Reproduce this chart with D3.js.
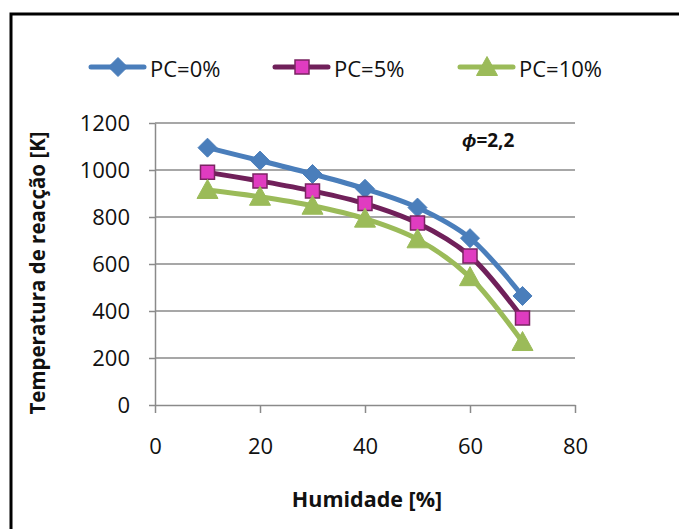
<!DOCTYPE html>
<html>
<head>
<meta charset="utf-8">
<script src="https://cdn.jsdelivr.net/npm/d3@7/dist/d3.min.js"></script>
<style>
  html, body { margin: 0; padding: 0; background: #fff; }
  svg { display: block; font-family: "Open Sans", sans-serif; }
</style>
</head>
<body>
<svg id="chart" width="679" height="529"></svg>
<script>
// Humidity levels (%) and reaction temperature (K) for each PC content
const humidity = [10, 20, 30, 40, 50, 60, 70];
const pc0  = [1095, 1040, 983, 920, 840, 710, 464];
const pc5  = [990, 953, 911, 857, 774, 634, 370];
const pc10 = [915, 886, 848, 793, 705, 544, 268];

const seriesNames = ["PC=0%", "PC=5%", "PC=10%"];
const xTicks = [0, 20, 40, 60, 80];
const yTicks = [0, 200, 400, 600, 800, 1000, 1200];

const series = [
  { name: seriesNames[0], values: pc0,  line: "#4A7EBB", fill: "#4A7EBB", stroke: "#4A7EBB", shape: "diamond" },
  { name: seriesNames[1], values: pc5,  line: "#70205A", fill: "#E03CC0", stroke: "#7A2462", shape: "square" },
  { name: seriesNames[2], values: pc10, line: "#9BBB59", fill: "#9BBB59", stroke: "#9BBB59", shape: "triangle" }
];

const svg = d3.select("#chart");

// outer frame
svg.append("rect")
  .attr("x", 11).attr("y", 14)
  .attr("width", 700).attr("height", 560)
  .attr("fill", "none").attr("stroke", "#000").attr("stroke-width", 3);

const x = d3.scaleLinear().domain([0, 80]).range([155, 575]);
const y = d3.scaleLinear().domain([0, 1200]).range([405, 123]);
const fmt = d3.format("d");

// horizontal gridlines
svg.append("g").selectAll("line")
  .data(yTicks.filter(d => d > 0))
  .join("line")
  .attr("x1", x(0)).attr("x2", x(80))
  .attr("y1", d => y(d)).attr("y2", d => y(d))
  .attr("stroke", "#8a8a8a").attr("stroke-width", 1.5);

// y axis
const yAxis = svg.append("g")
  .attr("transform", `translate(${x(0)},0)`)
  .call(d3.axisLeft(y).tickValues(yTicks).tickFormat(fmt)
    .tickSize(6).tickPadding(19).tickSizeOuter(0));
yAxis.select(".domain").attr("stroke", "#8a8a8a").attr("stroke-width", 1.5);
yAxis.selectAll(".tick line").attr("stroke", "#8a8a8a").attr("stroke-width", 1.5);
yAxis.selectAll(".tick text")
  .attr("font-family", "Open Sans, sans-serif")
  .attr("font-size", 22).attr("fill", "#111");

// x axis
const xAxis = svg.append("g")
  .attr("transform", `translate(0,${y(0)})`)
  .call(d3.axisBottom(x).tickValues(xTicks).tickFormat(fmt)
    .tickSize(8).tickPadding(25).tickSizeOuter(0));
xAxis.select(".domain").attr("stroke", "#8a8a8a").attr("stroke-width", 1.5);
xAxis.selectAll(".tick line").attr("stroke", "#8a8a8a").attr("stroke-width", 1.5);
xAxis.selectAll(".tick text")
  .attr("font-family", "Open Sans, sans-serif")
  .attr("font-size", 22).attr("fill", "#111");

// axis titles
svg.append("text")
  .attr("x", 367).attr("y", 507)
  .attr("text-anchor", "middle")
  .attr("font-weight", "bold").attr("font-size", 21.5).attr("fill", "#111")
  .text("Humidade [%]");

svg.append("text")
  .attr("transform", "translate(45,273) rotate(-90)")
  .attr("text-anchor", "middle")
  .attr("font-weight", "bold").attr("font-size", 20.5).attr("fill", "#111")
  .text("Temperatura de reacção [K]");

// equivalence ratio note
const note = svg.append("text")
  .attr("x", 462).attr("y", 147)
  .attr("font-weight", "bold").attr("font-size", 19).attr("fill", "#111");
note.append("tspan").attr("font-style", "italic").text("ϕ");
note.append("tspan").text("=2,2");

// marker symbol generator
function markerPath(shape) {
  if (shape === "diamond") return "M0,-9.5L9.5,0L0,9.5L-9.5,0Z";
  if (shape === "square") return "M-7,-7H7V7H-7Z";
  return "M0,-10.5L10.5,8.5L-10.5,8.5Z";
}

const line = d3.line()
  .x((d, i) => x(humidity[i]))
  .y(d => y(d))
  .curve(d3.curveCatmullRom.alpha(0.5));

series.forEach(s => {
  svg.append("path")
    .attr("d", line(s.values))
    .attr("fill", "none")
    .attr("stroke", s.line)
    .attr("stroke-width", 5)
    .attr("stroke-linejoin", "round")
    .attr("stroke-linecap", "round");
});

series.forEach(s => {
  svg.append("g").selectAll("path")
    .data(s.values)
    .join("path")
    .attr("transform", (d, i) => `translate(${x(humidity[i])},${y(d)})`)
    .attr("d", markerPath(s.shape))
    .attr("fill", s.fill)
    .attr("stroke", s.stroke)
    .attr("stroke-width", s.shape === "square" ? 1.5 : 1);
});

// legend
const legendX = [91, 275, 460];
series.forEach((s, i) => {
  const g = svg.append("g").attr("transform", `translate(${legendX[i]},67)`);
  g.append("line")
    .attr("x1", 0).attr("x2", 53)
    .attr("stroke", s.line).attr("stroke-width", 5).attr("stroke-linecap", "round");
  g.append("path")
    .attr("transform", "translate(27,0)")
    .attr("d", markerPath(s.shape))
    .attr("fill", s.fill).attr("stroke", s.stroke)
    .attr("stroke-width", s.shape === "square" ? 1.5 : 1);
  g.append("text")
    .attr("x", 59).attr("y", 10)
    .attr("font-size", 22).attr("fill", "#111")
    .text(s.name);
});
</script>
</body>
</html>
